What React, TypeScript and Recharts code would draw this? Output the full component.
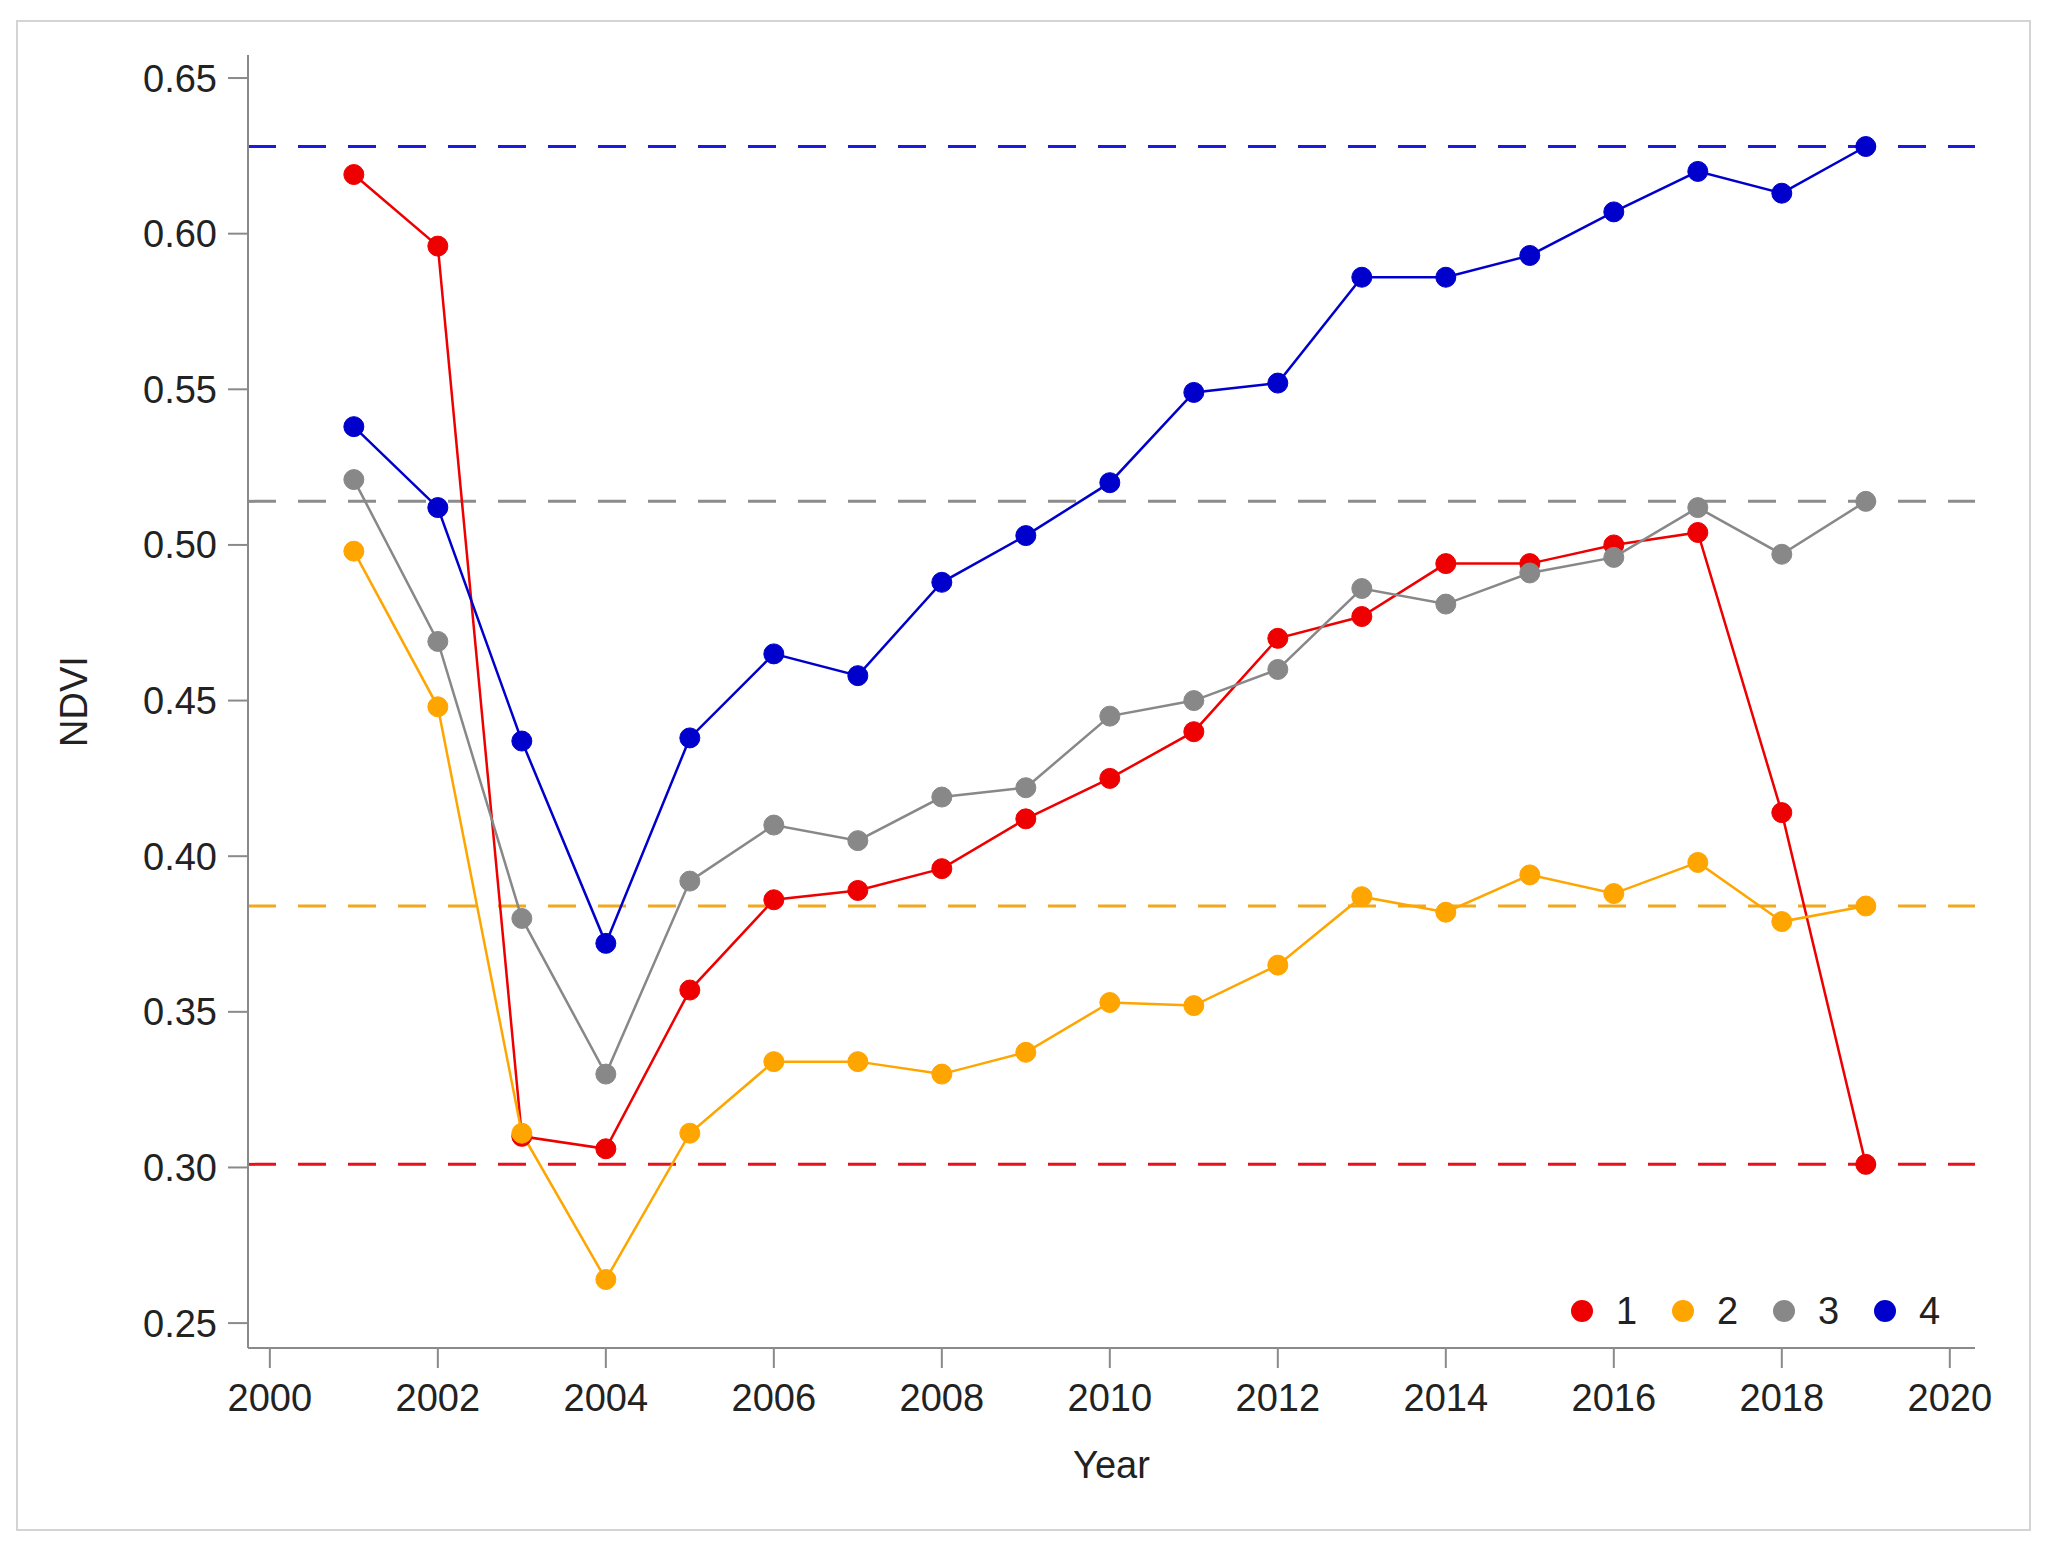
import { LineChart, Line, XAxis, YAxis, ReferenceLine, Legend, Label } from "recharts";

const years = [2001, 2002, 2003, 2004, 2005, 2006, 2007, 2008, 2009, 2010, 2011, 2012, 2013, 2014, 2015, 2016, 2017, 2018, 2019];

const group1 = [0.619, 0.596, 0.310, 0.306, 0.357, 0.386, 0.389, 0.396, 0.412, 0.425, 0.440, 0.470, 0.477, 0.494, 0.494, 0.500, 0.504, 0.414, 0.301];
const group2 = [0.498, 0.448, 0.311, 0.264, 0.311, 0.334, 0.334, 0.330, 0.337, 0.353, 0.352, 0.365, 0.387, 0.382, 0.394, 0.388, 0.398, 0.379, 0.384];
const group3 = [0.521, 0.469, 0.380, 0.330, 0.392, 0.410, 0.405, 0.419, 0.422, 0.445, 0.450, 0.460, 0.486, 0.481, 0.491, 0.496, 0.512, 0.497, 0.514];
const group4 = [0.538, 0.512, 0.437, 0.372, 0.438, 0.465, 0.458, 0.488, 0.503, 0.520, 0.549, 0.552, 0.586, 0.586, 0.593, 0.607, 0.620, 0.613, 0.628];

const groupNames = ["1", "2", "3", "4"];
const groupColors = ["#ee0000", "#ffa500", "#888888", "#0000cc"];
const dashColors = ["#e8101a", "#f2a81c", "#8c8c8c", "#1a1ae0"];
const groupMeans = [0.301, 0.384, 0.514, 0.628];

const xTicks = [2000, 2002, 2004, 2006, 2008, 2010, 2012, 2014, 2016, 2018, 2020];
const yTicks = [0.25, 0.3, 0.35, 0.4, 0.45, 0.5, 0.55, 0.6, 0.65];

const data = years.map((year, i) => ({
  year,
  g1: group1[i],
  g2: group2[i],
  g3: group3[i],
  g4: group4[i],
}));

const font = "'Liberation Sans', Arial, sans-serif";
const axisColor = "#8a8a8a";

const YTitle = (props: any) => {
  const vb = props.viewBox;
  const cx = 66;
  const cy = vb.y + vb.height / 2;
  return (
    <text x={cx} y={cy} transform={`rotate(-90, ${cx}, ${cy})`} textAnchor="middle" dominantBaseline="central" fill="#222" fontSize={38} fontFamily={font}>
      NDVI
    </text>
  );
};

const XTitle = (props: any) => {
  const vb = props.viewBox;
  const cx = vb.x + vb.width / 2;
  return (
    <text x={cx} y={1457} textAnchor="middle" dominantBaseline="central" fill="#222" fontSize={38} fontFamily={font}>
      Year
    </text>
  );
};

const LegendBox = () => (
  <div style={{ display: "flex", fontFamily: font, fontSize: 38, lineHeight: "40px", color: "#222" }}>
    {groupNames.map((name, i) => (
      <div key={name} style={{ display: "flex", alignItems: "center", width: 101 }}>
        <span style={{ width: 22, height: 22, borderRadius: 11, background: groupColors[i], display: "inline-block" }} />
        <span style={{ marginLeft: 23 }}>{name}</span>
      </div>
    ))}
  </div>
);

export default function App() {
  return (
    <div style={{ position: "relative", width: 2032, height: 1526 }}>
      <div
        style={{
          position: "absolute",
          left: 8,
          top: 12,
          width: 2011,
          height: 1507,
          border: "2px solid #d4d4d4",
        }}
      />
      <div style={{ position: "absolute", left: 0, top: 0 }}>
        <LineChart width={2032} height={1526} data={data} margin={{ top: 47, right: 65, left: 20, bottom: 86 }}>
          <XAxis
            dataKey="year"
            type="number"
            domain={[1999.74, 2020.3]}
            allowDataOverflow
            ticks={xTicks}
            tickSize={20}
            tickMargin={16}
            height={100}
            stroke={axisColor}
            strokeWidth={2}
            tick={{ fill: "#222", fontSize: 38, fontFamily: font }}
          >
            <Label content={XTitle} />
          </XAxis>
          <YAxis
            type="number"
            domain={[0.242, 0.6574]}
            allowDataOverflow
            ticks={yTicks}
            tickFormatter={(v: number) => v.toFixed(2)}
            tickSize={20}
            tickMargin={11}
            width={220}
            stroke={axisColor}
            strokeWidth={2}
            tick={{ fill: "#222", fontSize: 38, fontFamily: font }}
          >
            <Label content={YTitle} />
          </YAxis>
          {groupMeans.map((m, i) => (
            <ReferenceLine key={i} y={m} stroke={dashColors[i]} strokeWidth={3} strokeDasharray="28 22" />
          ))}
          {["g1", "g2", "g3", "g4"].map((key, i) => (
            <Line
              key={key}
              dataKey={key}
              name={groupNames[i]}
              stroke={groupColors[i]}
              strokeWidth={2.5}
              dot={{ r: 10, fill: groupColors[i], stroke: groupColors[i], strokeWidth: 1 }}
              isAnimationActive={false}
            />
          ))}
          <Legend
            content={LegendBox}
            layout="horizontal"
            verticalAlign="middle"
            align="center"
            wrapperStyle={{ position: "absolute", left: 1563, top: 1283, width: "auto", height: "auto" }}
          />
        </LineChart>
      </div>
    </div>
  );
}
